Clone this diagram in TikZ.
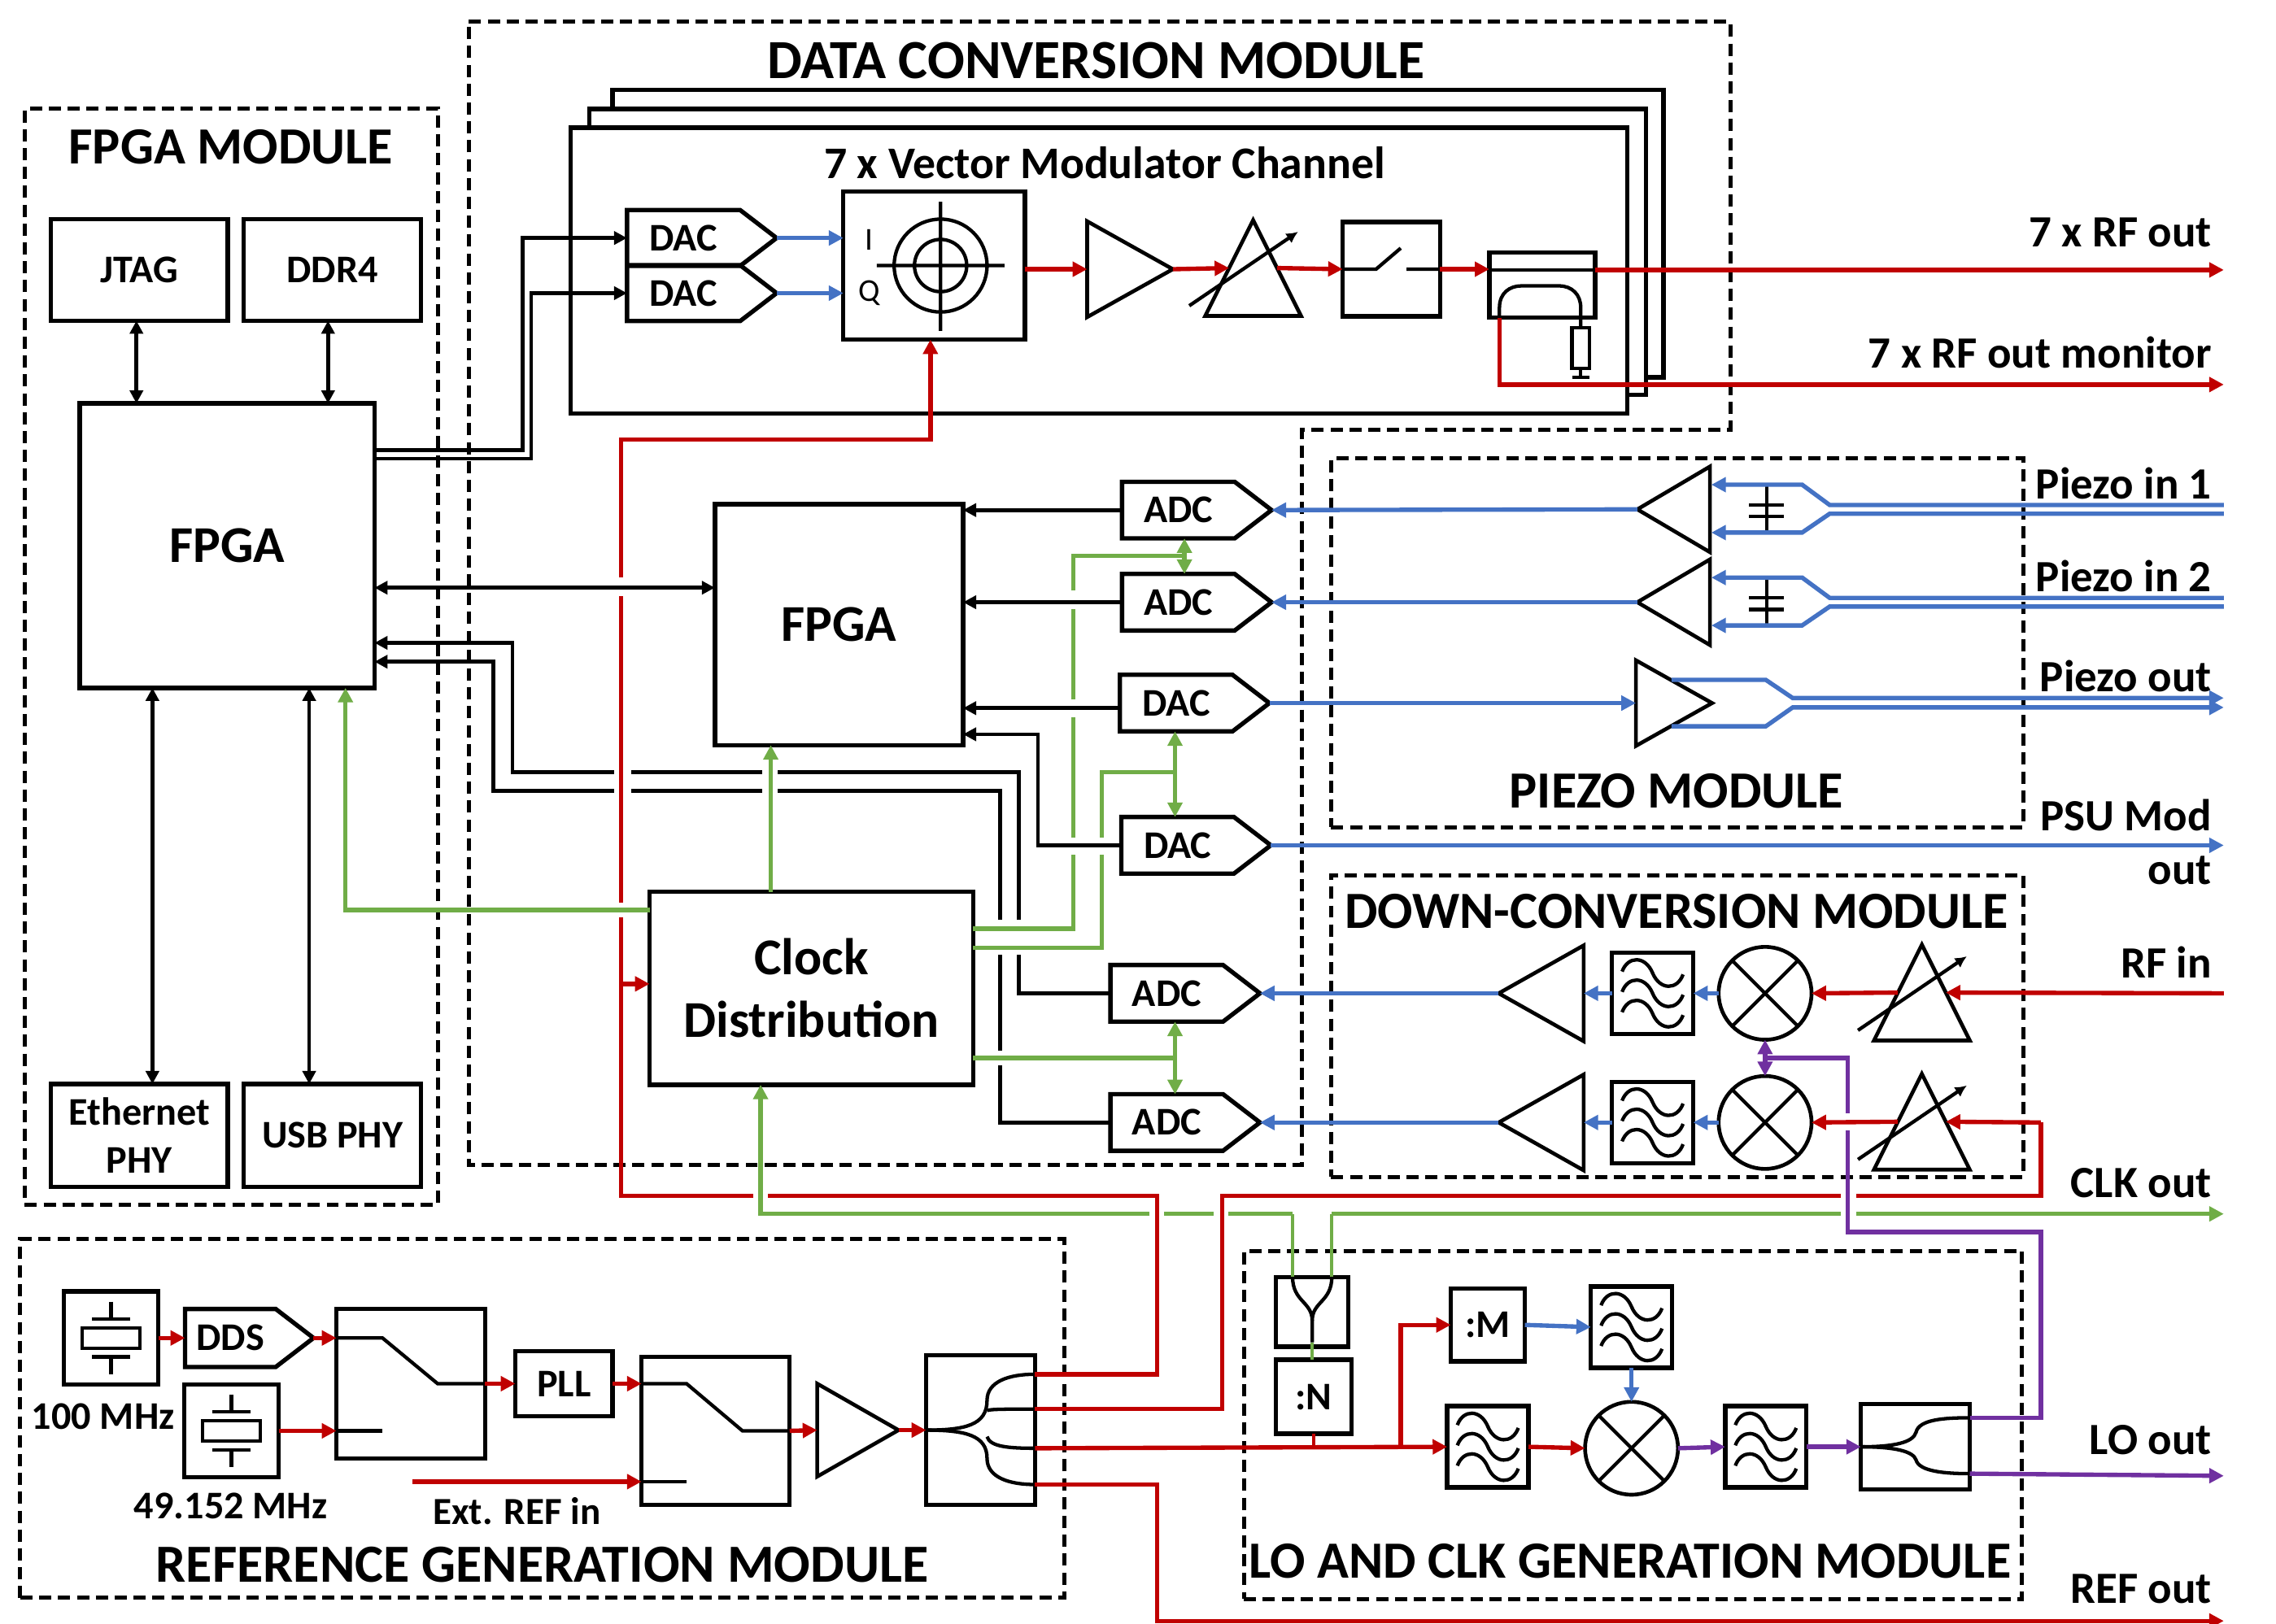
\documentclass[tikz,border=0pt]{standalone}
\usepackage{fontspec}
\setmainfont{Carlito}
\usetikzlibrary{arrows.meta, shapes.geometric, shapes.symbols}
\definecolor{rfred}{HTML}{C00000}
\definecolor{ifblue}{HTML}{4472C4}
\definecolor{clkgreen}{HTML}{70AD47}
\definecolor{lopurple}{HTML}{7030A0}
\newcommand{\titlefont}{\fontsize{18}{20}\selectfont\bfseries}
\newcommand{\labfont}{\fontsize{13.5}{16.5}\selectfont\bfseries}
\newcommand{\outfont}{\fontsize{15.4}{18}\selectfont\bfseries}
\newcommand{\bigfont}{\fontsize{17.8}{21.5}\selectfont\bfseries}

\newcommand{\mixer}[3]{
  \node[mix] (#1) at (#2,#3) {};
  \draw[wire] (#1.45)--(#1.225) (#1.135)--(#1.315);
}
\newcommand{\filt}[3]{
  \node[ly, sz={56}{56}] (#1) at (#2,#3) {};
  \foreach \dy in {-14,0,14}
    \draw[wire, shift={(#1.center)}] (-21,\dy-1) .. controls (-17,\dy-12) and (-5,\dy-12) .. (0,\dy)
      .. controls (5,\dy+12) and (17,\dy+12) .. (21,\dy+1);
}
\newcommand{\attn}[3]{
  \node[amp, sz={66}{66}, shape border rotate=90] (#1) at (#2,#3) {};
  \draw[wire, -{Latex[length=4pt,width=4pt]}, shift={(#1.apex)}] (-44,59) -- (31,8);
}
\newcommand{\xtal}[3]{
  \node[ly, sz={65}{64}] (#1) at (#2,#3) {};
  \draw[wire, shift={(#1.center)}] (0,-25) -- (0,-13) (-13,-13) -- (13,-13)
    (-20,-7) rectangle (20,7) (-13,13) -- (13,13) (0,13) -- (0,25);
}

\begin{document}
\begin{tikzpicture}[x=0.5pt, y=-0.5pt]
  \tikzset{sz/.style 2 args={minimum width=#1*0.5pt, minimum height=#2*0.5pt}}
  \tikzstyle{ly}=[draw, line width=1.5pt, inner sep=0pt, outer sep=0pt,
    align=center, font=\labfont]
  \tikzstyle{modbox}=[draw, line width=1.4pt, dash pattern=on 4.2pt off 2.3pt,
    inner sep=0pt, outer sep=0pt]
  \tikzstyle{conv}=[ly, signal, signal to=east, signal pointer angle=75, anchor=east]
  \tikzstyle{amp}=[draw, line width=1.3pt, isosceles triangle,
    isosceles triangle stretches, inner sep=0pt, outer sep=0pt, anchor=apex]
  \tikzstyle{mix}=[draw, line width=1.3pt, circle, minimum size=32pt,
    inner sep=0pt, outer sep=0pt]
  \tikzstyle{wire}=[line width=1.2pt, black]
  \tikzstyle{ttl}=[font=\titlefont, inner sep=0pt]
  \tikzstyle{lab}=[font=\labfont, inner sep=0pt]
  \tikzstyle{outlab}=[font=\outfont, inner sep=0pt, anchor=east]
  \tikzstyle{bk}=[line width=1.3pt, black, >={Triangle[length=4.5pt,width=4.5pt]}]
  \tikzstyle{rd}=[line width=1.5pt, rfred, >={Triangle[length=5pt,width=5pt]}]
  \tikzstyle{bl}=[line width=1.5pt, ifblue, >={Triangle[length=5pt,width=5pt]}]
  \tikzstyle{gr}=[line width=1.5pt, clkgreen, >={Triangle[length=5pt,width=5pt]}]
  \tikzstyle{pu}=[line width=1.5pt, lopurple, >={Triangle[length=5pt,width=5pt]}]

  \useasboundingbox (0,0) rectangle (1568,1119);

  % modules
  \node[modbox, sz={285}{755}] (fpgamod) at (159.5,452.5) {};
  \node[modbox, sz={477}{254}] (piezomod) at (1155.5,443) {};
  \node[modbox, sz={477}{208}] (downmod) at (1155.5,707) {};
  \node[modbox, sz={719}{247}] (refmod) at (373.5,977.5) {};
  \node[modbox, sz={536}{240}] (lomod) at (1125,982) {};
  \draw[line width=1.4pt, dash pattern=on 4.2pt off 2.3pt]
    (323,15) -- (1192,15) -- (1192,296) -- (897,296) -- (897,803) -- (323,803) -- cycle;
  \node[ttl] (fpgattl) at (159,101) {FPGA MODULE};
  \node[ttl, font=\fontsize{19}{21}\selectfont\bfseries] (datattl) at (755,42) {DATA CONVERSION MODULE};
  \node[ttl] (piezottl) at (1155,545) {PIEZO MODULE};
  \node[ttl] (downttl) at (1155,628) {DOWN-CONVERSION MODULE};
  \node[ttl, font=\fontsize{18.5}{21}\selectfont\bfseries] (refttl) at (373.5,1078) {REFERENCE GENERATION MODULE};
  \node[ttl] (lottl) at (1123,1076) {LO AND CLK GENERATION MODULE};

  % channel stack
  \draw[line width=1.5pt] (422,75) -- (422,62) -- (1146,62) -- (1146,260) -- (1134,260);
  \draw[line width=1.5pt] (406,88) -- (406,75) -- (1134,75) -- (1134,272) -- (1121,272);
  \node[ly, sz={728}{197}] (chan) at (757,186.5) {};
  \node[lab, font=\fontsize{15.6}{18}\selectfont\bfseries] (chanttl) at (761,112) {7 x Vector Modulator Channel};

  % fpga module
  \node[ly, sz={122}{70}] (jtag) at (96,186) {JTAG};
  \node[ly, sz={122}{70}] (ddr) at (229,186) {DDR4};
  \node[ly, sz={203}{196}, font=\bigfont] (fpgaa) at (156.5,376) {FPGA};
  \node[ly, sz={122}{71}] (eth) at (96,782.5) {Ethernet\\PHY};
  \node[ly, sz={122}{71}] (usb) at (229,782.5) {USB PHY};
  \draw[bk,<->] (jtag.south -| 94,0) -- (fpgaa.north -| 94,0);
  \draw[bk,<->] (ddr.south -| 226,0) -- (fpgaa.north -| 226,0);
  \draw[bk,<->] (fpgaa.south -| 105,0) -- (eth.north -| 105,0);
  \draw[bk,<->] (fpgaa.south -| 213,0) -- (usb.north -| 213,0);

  % vector modulator chain
  \node[conv, sz={103}{38.5}] (daca) at (535,164) {DAC};
  \node[conv, sz={103}{38.5}] (dacb) at (535,202) {DAC};
  \node[ly, sz={125}{102}] (iq) at (643.5,183) {};
  \node[lab, font=\fontsize{11}{13}\selectfont] (ilab) at (599,165) {I};
  \node[lab, font=\fontsize{11}{13}\selectfont] (qlab) at (599,202) {Q};
  \draw[wire] (648,183) circle[radius=16pt] (648,183) circle[radius=9pt]
    (604,183) -- (692,183) (648,139) -- (648,228);
  \node[amp, sz={66}{59}] (ampa) at (808,185.5) {};
  \attn{attna}{863.3}{151.7}
  \node[ly, sz={67}{65}] (swa) at (958.5,185.5) {};
  \draw[wire] (swa.west) -- (948,185.5) -- (965,171) (969,185.5) -- (swa.east);
  \node[ly, sz={73}{45}] (cpl) at (1062.5,196.5) {};
  \draw[wire] (cpl.west |- 0,186) -- (cpl.east |- 0,186);
  \draw[wire] (1033,219) -- (1033,212) .. controls (1033,202) and (1040,197) .. (1048,197)
    -- (1074,197) .. controls (1083,197) and (1089,203) .. (1089,212) -- (1089,226);
  \node[draw, line width=1.2pt, sz={12}{28}, inner sep=0pt, outer sep=0pt] (res) at (1089,240) {};
  \draw[wire] (res.south) -- (1089,260) (1083,260) -- (1095,260);

  \draw[bk,->] (fpgaa.east |- 0,310) -- (360,310) -- (360,164) -- (daca.west);
  \draw[bk,->] (fpgaa.east |- 0,316) -- (366,316) -- (366,202) -- (dacb.west);
  \draw[bl,->] (daca.east) -- (iq.west |- daca.east);
  \draw[bl,->] (dacb.east) -- (iq.west |- dacb.east);
  \draw[rd,->] (iq.east |- ampa.lower side) -- (ampa.lower side);
  \draw[rd,->] (ampa.apex) -- (attna.left side);
  \draw[rd,->] (attna.right side) -- (swa.west);
  \draw[rd,->] (swa.east) -- (cpl.west |- swa);
  \draw[rd,->] (cpl.east |- 0,186) -- (1532,186);
  \draw[rd,->] (1033,219) -- (1033,265) -- (1532,265);
  \node[outlab] (rfout) at (1524,160) {7 x RF out};
  \node[outlab] (rfmon) at (1524,243) {7 x RF out monitor};

  % middle fpga, converters
  \node[ly, sz={171}{166}, font=\bigfont] (fpgab) at (578,430.5) {FPGA};
  \node[ly, sz={223}{133}, font=\bigfont] (clock) at (559,681) {Clock\\Distribution};
  \node[conv, sz={103}{39}] (adca) at (876,351.5) {ADC};
  \node[conv, sz={103}{39}] (adcb) at (876,415) {ADC};
  \node[conv, sz={103}{39}] (dacc) at (874.5,484.5) {DAC};
  \node[conv, sz={103}{39}] (dacd) at (875.5,582.5) {DAC};
  \node[conv, sz={103}{39}] (adcc) at (868,684.5) {ADC};
  \node[conv, sz={103}{39}] (adcd) at (868,773.5) {ADC};

  \draw[bk,<->] (fpgaa.east |- 0,405) -- (fpgab.west |- 0,405);
  \draw[bk,->] (adca.west) -- (fpgab.east |- adca.west);
  \draw[bk,->] (adcb.west) -- (fpgab.east |- adcb.west);
  \draw[bk,->] (dacc.west |- 0,488) -- (fpgab.east |- 0,488);
  \draw[bk,->] (dacd.west) -- (715,582.5) -- (715,506) -- (fpgab.east |- 0,506);
  \draw[bk,->] (adcc.west) -- (702,684.5) -- (702,658) (702,634) -- (702,532) -- (536,532)
    (525,532) -- (435,532) (423,532) -- (353,532) -- (353,443) -- (fpgaa.east |- 0,443);
  \draw[bk,->] (adcd.west) -- (689,773.5) -- (689,734) (689,724) -- (689,658) (689,634)
    -- (689,545) -- (536,545) (525,545) -- (435,545) (423,545) -- (340,545) -- (340,456)
    -- (fpgaa.east |- 0,456);

  \draw[gr,->] (clock.north -| 531,0) -- (fpgab.south -| 531,0);
  \draw[gr,->] (clock.west |- 0,627) -- (238,627) -- (fpgaa.south -| 238,0);
  \draw[gr] (clock.east |- 0,640) -- (739.5,640) -- (739.5,589) (739.5,577) -- (739.5,494)
    (739.5,482) -- (739.5,420) (739.5,407) -- (739.5,383) -- (816,383);
  \draw[gr,<->] (adca.south -| 816,0) -- (adcb.north -| 816,0);
  \draw[gr] (clock.east |- 0,653) -- (759,653) -- (759,589) (759,577) -- (759,532) -- (809.5,532);
  \draw[gr,<->] (dacc.south -| 809.5,0) -- (dacd.north -| 809.5,0);
  \draw[gr] (clock.east |- 0,729) -- (809.5,729);
  \draw[gr,<->] (adcc.south -| 809.5,0) -- (adcd.north -| 809.5,0);

  % piezo module
  \node[amp, sz={59}{50}, shape border rotate=180] (pza) at (1128,351) {};
  \node[amp, sz={59}{50}, shape border rotate=180] (pzb) at (1128,415) {};
  \foreach \yy in {351,415}{
    \draw[wire] (1217,\yy-17) -- (1217,\yy+16) (1205,\yy-3) -- (1229,\yy-3) (1205,\yy+5) -- (1229,\yy+5);
    \draw[bl,->] (1532,\yy-3) -- (1260.5,\yy-3) -- (1241.5,\yy-17) -- (1179,\yy-17);
    \draw[bl,->] (1532,\yy+3) -- (1260.5,\yy+3) -- (1241.5,\yy+16) -- (1179,\yy+16);
  }
  \draw[bl,->] (pza.apex) -- (adca.east);
  \draw[bl,->] (pzb.apex) -- (adcb.east);
  \node[amp, sz={59}{52.5}] (pzc) at (1179.5,484.5) {};
  \draw[bl,->] (dacc.east) -- (pzc.lower side);
  \draw[bl,->] (1151.5,468.5) -- (1216.5,468.5) -- (1235,481) -- (1532,481);
  \draw[bl,->] (1151.5,500.5) -- (1216.5,500.5) -- (1235,487.5) -- (1532,487.5);
  \draw[bl,->] (dacd.east) -- (1532,582.5);
  \node[outlab] (pzina) at (1524,333) {Piezo in 1};
  \node[outlab] (pzinb) at (1524,397) {Piezo in 2};
  \node[outlab] (pzout) at (1524,466) {Piezo out};
  \node[outlab] (psua) at (1524,562) {PSU Mod};
  \node[outlab] (psub) at (1524,600) {out};

  % down-conversion module
  \node[amp, sz={66}{58.5}, shape border rotate=180] (dnampa) at (1032.5,684.5) {};
  \node[amp, sz={66}{58.5}, shape border rotate=180] (dnampb) at (1032.5,773.5) {};
  \filt{dnfa}{1138.5}{684.5}
  \filt{dnfb}{1138.5}{773.5}
  \mixer{dnmixa}{1216}{684.5}
  \mixer{dnmixb}{1216}{773.5}
  \attn{dnatta}{1324}{651}
  \attn{dnattb}{1324}{740}
  \draw[rd,->] (1532,684.5) -- (dnatta.right side);
  \draw[rd,->] (dnatta.left side) -- (dnmixa.east);
  \draw[rd,->] (dnattb.left side) -- (dnmixb.east);
  \draw[bl,->] (dnmixa.west) -- (dnfa.east);
  \draw[bl,->] (dnmixb.west) -- (dnfb.east);
  \draw[bl,->] (dnfa.west) -- (dnampa.lower side);
  \draw[bl,->] (dnfb.west) -- (dnampb.lower side);
  \draw[bl,->] (dnampa.apex) -- (adcc.east);
  \draw[bl,->] (dnampb.apex) -- (adcd.east);
  \node[outlab] (rfin) at (1524,663) {RF in};
  \node[outlab] (clkout) at (1524,815) {CLK out};

  % reference generation module
  \xtal{xta}{76.5}{922}
  \xtal{xtb}{159.5}{986}
  \node[conv, sz={88.5}{40}] (dds) at (216,922) {DDS};
  \node[ly, sz={102.5}{103}] (swb) at (283,953.5) {};
  \draw[wire] (swb.west |- 0,922) -- (263.5,922) -- (301.5,953.5) -- (swb.east);
  \draw[wire] (swb.west |- 0,986) -- (263.5,986);
  \node[ly, sz={67}{45}] (pll) at (388.5,953.5) {PLL};
  \node[ly, sz={102}{102}] (swc) at (493,986) {};
  \draw[wire] (swc.west |- 0,953.5) -- (473,953.5) -- (511.5,986) -- (swc.east);
  \draw[wire] (swc.west |- 0,1021) -- (473,1021);
  \node[amp, sz={64}{56}] (ampr) at (619,985.5) {};
  \node[ly, sz={75}{103}] (splr) at (675.5,985.5) {};
  \draw[wire] (splr.west) .. controls (665,985.5) and (680,982) .. (680,965)
    .. controls (680,952) and (695,947) .. (splr.east |- 0,947);
  \draw[wire] (680,972) .. controls (682,971) and (695,971) .. (splr.east |- 0,971);
  \draw[wire] (splr.west) .. controls (665,985.5) and (680,989) .. (680,1005)
    .. controls (680,1018) and (695,1023) .. (splr.east |- 0,1023);
  \draw[wire] (680,990) .. controls (682,997) and (695,998) .. (splr.east |- 0,998);
  \draw[rd,->] (xta.east) -- (dds.west);
  \draw[rd,->] (dds.east) -- (swb.west |- dds.east);
  \draw[rd,->] (xtb.east) -- (swb.west |- xtb);
  \draw[rd,->] (swb.east) -- (pll.west);
  \draw[rd,->] (pll.east) -- (swc.west |- pll);
  \draw[rd,->] (284,1021) -- (swc.west |- 0,1021);
  \draw[rd,->] (swc.east) -- (ampr.lower side);
  \draw[rd,->] (ampr.apex) -- (splr.west);
  \node[lab, font=\fontsize{13.5}{15}\selectfont\bfseries] (xtalab) at (71,976) {100 MHz};
  \node[lab, font=\fontsize{13.5}{15}\selectfont\bfseries] (xtblab) at (159,1038) {49.152 MHz};
  \node[lab, font=\fontsize{13.2}{15}\selectfont\bfseries] (extlab) at (356,1041.5) {Ext. REF in};

  % lo and clk generation module
  \node[ly, sz={50}{48}] (comb) at (904,904) {};
  \draw[wire] (890.5,880) .. controls (890.5,897) and (904,897) .. (904,910) -- (904,925);
  \draw[wire] (917.5,880) .. controls (917.5,897) and (904,897) .. (904,910);
  \node[ly, sz={52}{51}] (divn) at (905,962.5) {:N};
  \node[ly, sz={51}{50}] (divm) at (1025,913) {:M};
  \filt{lofa}{1124}{914.5}
  \filt{lofb}{1025}{997}
  \filt{lofc}{1216.5}{997}
  \mixer{lomix}{1124}{998}
  \node[ly, sz={75}{59}] (spll) at (1319.5,997) {};
  \draw[wire] (spll.west) .. controls (1305,997) and (1318,994) .. (1320,987)
    .. controls (1322,978) and (1340,977) .. (spll.east |- 0,977);
  \draw[wire] (spll.west) .. controls (1305,997) and (1318,1000) .. (1320,1006)
    .. controls (1322,1014) and (1340,1015.5) .. (spll.east |- 0,1015.5);
  \draw[line width=1pt, clkgreen] (904,925) -- (divn.north -| 904,0);
  \draw[line width=1pt, rfred] (divn.south) -- (905,997);
  \draw[rd,->] (splr.east |- 0,998) -- (lofb.west);
  \draw[rd,->] (965,997) -- (965,913) -- (divm.west);
  \draw[rd,->] (lofb.east) -- (lomix.west);
  \draw[bl,->] (divm.east) -- (lofa.west);
  \draw[bl,->] (lofa.south) -- (lomix.north);
  \draw[pu,->] (lomix.east) -- (lofc.west);
  \draw[pu,->] (lofc.east) -- (spll.west);
  \draw[pu,->] (spll.east |- 0,1015.5) -- (1532,1017);
  \draw[pu,<->] (dnmixa.south) -- (dnmixb.north);
  \draw[pu] (spll.east |- 0,977) -- (1406,977) -- (1406,849) -- (1273,849) -- (1273,779)
    (1273,767) -- (1273,729) -- (1216,729);
  \node[outlab] (loout) at (1524,992) {LO out};
  \node[outlab] (refout) at (1524,1095) {REF out};

  % long runs
  \draw[rd,->] (splr.east |- 0,947) -- (797,947) -- (797,824) -- (529,824) (519,824) -- (428,824)
    -- (428,632) (428,622) -- (428,411) (428,398) -- (428,303) -- (641,303) -- (iq.south -| 641,0);
  \draw[rd,->] (428,678) -- (clock.west |- 0,678);
  \draw[rd] (splr.east |- 0,971) -- (842,971) -- (842,824) -- (1268,824) (1279,824) -- (1406,824)
    -- (1406,773.5);
  \draw[rd,->] (1406,773.5) -- (dnattb.right side);
  \draw[rd,->] (splr.east |- 0,1023) -- (797,1023) -- (797,1117) -- (1532,1117);
  \draw[gr,->] (792,836.5) -- (524,836.5) -- (clock.south -| 524,0);
  \draw[gr] (802,836.5) -- (836,836.5) (846,836.5) -- (890.5,836.5);
  \draw[line width=1pt, clkgreen] (890.5,836.5) -- (890.5,880);
  \draw[line width=1pt, clkgreen] (917.5,880) -- (917.5,836.5);
  \draw[gr,->] (917.5,836.5) -- (1268,836.5) (1279,836.5) -- (1532,836.5);
\end{tikzpicture}
\end{document}
